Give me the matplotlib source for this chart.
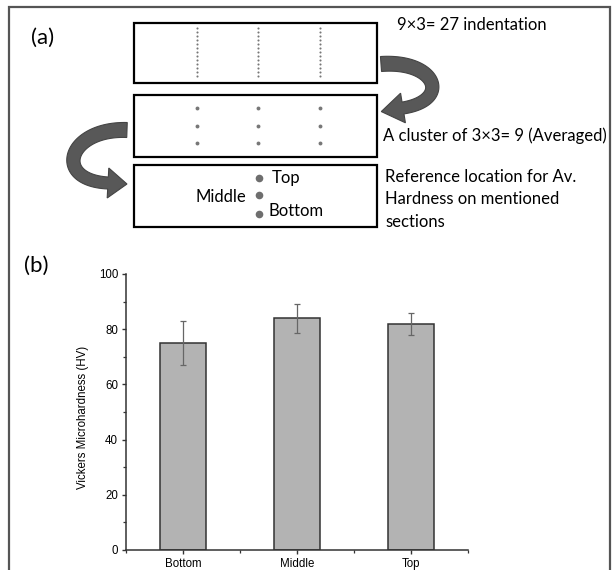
import numpy as np
import matplotlib
matplotlib.use("Agg")
import matplotlib.pyplot as plt
from matplotlib.patches import Rectangle, Polygon
from matplotlib.ticker import MultipleLocator, FixedLocator

# bar chart data (b)
sections = ["Bottom", "Middle", "Top"]
hardness = [75.0, 84.0, 82.0]
hardness_err = [8.1, 5.2, 4.0]

W, H = 613, 570


def curved_arrow(ax, pts, w0, w1, head_w, head_l, **kw):
    # thick bent arrow: cubic centre line, tapering body, triangular head
    p = np.asarray(pts, float)
    t = np.linspace(0, 1, 60)[:, None]
    c = ((1 - t) ** 3) * p[0] + 3 * ((1 - t) ** 2) * t * p[1] + 3 * (1 - t) * t ** 2 * p[2] + t ** 3 * p[3]
    d = 3 * ((1 - t) ** 2) * (p[1] - p[0]) + 6 * (1 - t) * t * (p[2] - p[1]) + 3 * t ** 2 * (p[3] - p[2])
    d = d / np.linalg.norm(d, axis=1, keepdims=True)
    n = np.column_stack([-d[:, 1], d[:, 0]])
    hw = (w0 + (w1 - w0) * t) / 2
    left = c + n * hw
    right = c - n * hw
    tip = c[-1] + d[-1] * head_l
    hl = c[-1] + n[-1] * head_w / 2
    hr = c[-1] - n[-1] * head_w / 2
    verts = np.vstack([left, [hl], [tip], [hr], right[::-1]])
    ax.add_patch(Polygon(verts, closed=True, **kw))


fig = plt.figure(figsize=(W / 100, H / 100), dpi=100)

# overlay in pixel coordinates for the schematic (a)
ov = fig.add_axes([0, 0, 1, 1])
ov.set_xlim(0, W)
ov.set_ylim(H, 0)
ov.axis("off")

diag_font = "Lato"
frame_c = "#555555"

# outer frame
ov.plot([9, 9, 610, 610], [H, 7, 7, H], color=frame_c, lw=1.6, solid_joinstyle="miter")

ov.text(31, 38, "(a)", fontsize=16, family=diag_font, va="center", ha="left")
ov.text(24, 266, "(b)", fontsize=16, family=diag_font, va="center", ha="left")

# three boxes
for y0, y1 in [(23, 83), (95, 157), (165, 227)]:
    ov.add_patch(Rectangle((134, y0), 243, y1 - y0, fill=False, ec="black", lw=1.6))

# box 1: dotted indentation lines
col_x = [197, 258, 320]
for x in col_x:
    ys = np.arange(28, 80, 4)
    ov.plot(np.full(len(ys), x), ys, ls="none", marker="o", ms=1.5, color="#777777", mec="none")

# box 2: 3x3 cluster
for x in col_x:
    for y in [108, 126, 143]:
        ov.plot(x, y, marker="o", ms=2.8, color="#777777", mec="none")

# box 3: reference points
for y in [178, 195, 214]:
    ov.plot(259, y, marker="o", ms=5.5, color="#6e6e6e", mec="none")
fs = 12
ov.text(272, 178, "Top", fontsize=fs, family=diag_font, va="center", ha="left")
ov.text(246, 197, "Middle", fontsize=fs, family=diag_font, va="center", ha="right")
ov.text(269, 211, "Bottom", fontsize=fs, family=diag_font, va="center", ha="left")

ov.text(397, 25, "9\u00d73= 27 indentation", fontsize=fs, family=diag_font, va="center", ha="left")
ov.text(383, 136, "A cluster of 3\u00d73= 9 (Averaged)", fontsize=fs, family=diag_font,
        va="center", ha="left")
for i, line in enumerate(["Reference location for Av.", "Hardness on mentioned", "sections"]):
    ov.text(385, 177 + 22.5 * i, line, fontsize=fs, family=diag_font, va="center", ha="left")

# curved arrows
arrow_kw = dict(fc="#585858", ec="#444444", lw=0.8)
curved_arrow(ov, [(381, 64), (436, 60), (452, 100), (403, 108)], 15, 12, 30, 22, **arrow_kw)
curved_arrow(ov, [(127, 130), (68, 128), (52, 180), (108, 183)], 15, 12, 30, 19, **arrow_kw)

# bar chart (b)
ax = fig.add_axes([126 / W, 1 - 550 / H, 342 / W, 276 / H])
ax.patch.set_alpha(0)
x = np.arange(1, len(sections) + 1)
ax.bar(x, hardness, width=0.4, color="#b3b3b3", edgecolor="#333333", linewidth=1.1, zorder=2)
ax.errorbar(x, hardness, yerr=hardness_err, fmt="none", ecolor="#666666",
            elinewidth=0.9, capsize=2.3, capthick=0.9, zorder=3)

ax.set_xlim(0.5, 3.5)
ax.set_ylim(0, 100)
ax.xaxis.set_major_locator(FixedLocator(x))
ax.xaxis.set_minor_locator(FixedLocator([0.5, 1.5, 2.5, 3.5]))
ax.set_xticklabels(sections)
ax.yaxis.set_major_locator(MultipleLocator(20))
ax.yaxis.set_minor_locator(MultipleLocator(10))

for s in ("top", "right"):
    ax.spines[s].set_visible(False)
for s in ("left", "bottom"):
    ax.spines[s].set_linewidth(1.1)
    ax.spines[s].set_color("#333333")

ax.tick_params(which="major", direction="out", length=3.2, width=1, color="#333333",
               labelsize=8.3, pad=2.5)
ax.tick_params(which="minor", direction="out", length=2, width=0.9, color="#333333")
for lab in ax.get_xticklabels() + ax.get_yticklabels():
    lab.set_family("Liberation Sans")
ax.set_ylabel("Vickers Microhardness (HV)", fontsize=8.3, family="Liberation Sans")
ax.yaxis.set_label_coords(-0.108, 0.48)

fig.savefig("out.png", dpi=100)
